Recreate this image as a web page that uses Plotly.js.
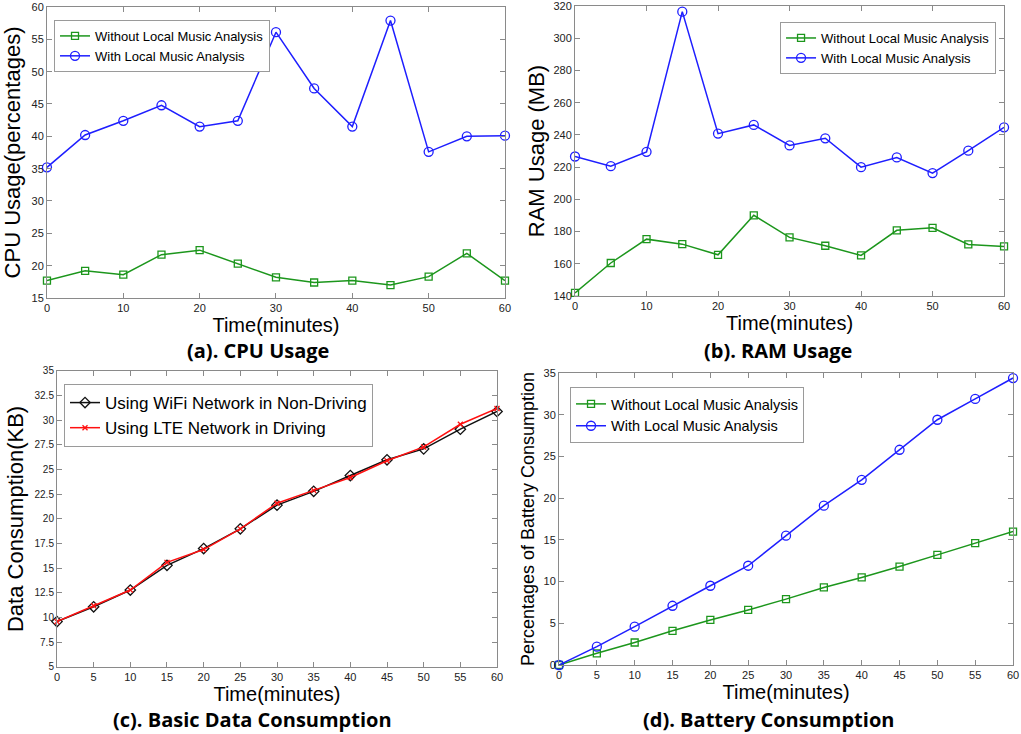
<!DOCTYPE html>
<html>
<head>
<meta charset="utf-8">
<script src="https://cdn.plot.ly/plotly-3.0.1.min.js"></script>
<style>html,body{margin:0;padding:0;background:#fff;}#chart{width:1021px;height:734px;}</style>
</head>
<body>
<div id="chart"></div>
<script>
// ---- data ----
const time = [0, 5, 10, 15, 20, 25, 30, 35, 40, 45, 50, 55, 60];
const cpuWithout = [17.7, 19.2, 18.6, 21.7, 22.4, 20.3, 18.2, 17.4, 17.7, 17.0, 18.3, 21.9, 17.7];
const cpuWith = [35.2, 40.2, 42.4, 44.8, 41.5, 42.4, 56.1, 47.4, 41.5, 57.9, 37.6, 40.0, 40.1];
const ramWithout = [141.9, 160.5, 175.3, 172.2, 165.6, 190.1, 176.4, 171.2, 165.2, 180.8, 182.3, 172.0, 170.8];
const ramWith = [226.6, 220.6, 229.5, 316.5, 240.8, 246.2, 233.5, 237.9, 220.0, 226.0, 216.3, 230.2, 244.7];
const dataWifi = [9.6, 11.1, 12.8, 15.3, 17.0, 19.0, 21.4, 22.8, 24.4, 26.0, 27.1, 29.1, 30.9];
const dataLte = [9.6, 11.2, 12.8, 15.6, 16.9, 19.0, 21.6, 22.9, 24.2, 25.9, 27.3, 29.6, 31.2];
const batWithout = [0, 1.4, 2.7, 4.1, 5.4, 6.6, 7.9, 9.3, 10.5, 11.8, 13.2, 14.6, 16.0];
const batWith = [0, 2.2, 4.6, 7.1, 9.5, 11.9, 15.5, 19.1, 22.2, 25.8, 29.4, 31.9, 34.4];

const seriesNames = ["Without Local Music Analysis", "With Local Music Analysis"];
const netNames = ["Using WiFi Network in Non-Driving", "Using LTE Network in Driving"];

const cpuTicks = [15, 20, 25, 30, 35, 40, 45, 50, 55, 60];
const ramTicks = [140, 160, 180, 200, 220, 240, 260, 280, 300, 320];
const dataTicks = [5, 7.5, 10, 12.5, 15, 17.5, 20, 22.5, 25, 27.5, 30, 32.5, 35];
const dataTickText = ["5", "7.5", "10", "12.5", "15", "17.5", "20", "22.5", "25", "27.5", "30", "32.5", "35"];
const batTicks = [0, 5, 10, 15, 20, 25, 30, 35];
const timeTicks10 = [0, 10, 20, 30, 40, 50, 60];
const timeTicks5 = [0, 5, 10, 15, 20, 25, 30, 35, 40, 45, 50, 55, 60];

const panelTitles = ["(a). CPU Usage", "(b). RAM Usage", "(c). Basic Data Consumption", "(d). Battery Consumption"];
const yTitles = ["CPU Usage(percentages)", "RAM Usage (MB)", "Data Consumption(KB)", "Percentages of Battery Consumption"];
const xTitle = "Time(minutes)";

// ---- styles ----
const GREEN = "#1c961c", BLUE = "#1e1eff", RED = "#ff1010", BLACK = "#111111";
const AX = "#8a8a8a";
const FONT = "Liberation Sans, Arial, sans-serif";

function line(x, y, name, color, symbol, size, xa, ya, leg) {
  return {
    x: x, y: y, name: name, type: "scatter", mode: "lines+markers",
    xaxis: xa, yaxis: ya, legend: leg, cliponaxis: false,
    line: {color: color, width: 1.5},
    marker: {symbol: symbol, size: size, color: color, line: {color: color, width: 1.3}}
  };
}

const traces = [
  line(time, cpuWithout, seriesNames[0], GREEN, "square-open", 7, "x", "y", "legend"),
  line(time, cpuWith, seriesNames[1], BLUE, "circle-open", 9, "x", "y", "legend"),
  line(time, ramWithout, seriesNames[0], GREEN, "square-open", 7, "x2", "y2", "legend2"),
  line(time, ramWith, seriesNames[1], BLUE, "circle-open", 9, "x2", "y2", "legend2"),
  line(time, dataWifi, netNames[0], BLACK, "diamond-open", 8, "x3", "y3", "legend3"),
  line(time, dataLte, netNames[1], RED, "x-thin-open", 5, "x3", "y3", "legend3"),
  line(time, batWithout, seriesNames[0], GREEN, "square-open", 7, "x4", "y4", "legend4"),
  line(time, batWith, seriesNames[1], BLUE, "circle-open", 9, "x4", "y4", "legend4")
];

function xax(domain, anchor, ticks, titleStandoff) {
  return {
    domain: domain, anchor: anchor, range: [0, 60], tickvals: ticks,
    showgrid: false, zeroline: false, showline: true, linecolor: AX, linewidth: 1,
    mirror: "ticks", ticks: "inside", ticklen: 5, tickcolor: AX, ticklabeloverflow: "allow",
    tickfont: {family: FONT, size: 11, color: "#222"},
    title: {text: xTitle, font: {family: FONT, size: 20, color: "#000"}, standoff: titleStandoff}
  };
}
function yax(domain, anchor, range, ticks, ticktext, title, tsize, fsize, standoff) {
  const a = {
    domain: domain, anchor: anchor, range: range, tickvals: ticks,
    showgrid: false, zeroline: false, showline: true, linecolor: AX, linewidth: 1,
    mirror: "ticks", ticks: "inside", ticklen: 5, tickcolor: AX, ticklabeloverflow: "allow",
    tickfont: {family: FONT, size: fsize, color: "#222"},
    title: {text: title, font: {family: FONT, size: tsize, color: "#000"}, standoff: standoff}
  };
  if (ticktext) a.ticktext = ticktext;
  return a;
}

function leg(x, y, size) {
  return {
    x: x, y: y, xanchor: "left", yanchor: "top", xref: "paper", yref: "paper",
    bgcolor: "#fff", bordercolor: "#9a9a9a", borderwidth: 1,
    font: {family: FONT, size: size, color: "#000"},
    itemwidth: 30, tracegroupgap: 0
  };
}

function sub(text, x, y) {
  return {text: text, x: x, y: y, xref: "paper", yref: "paper", showarrow: false,
    xanchor: "center", yanchor: "middle",
    font: {family: "Open Sans, Noto Sans, sans-serif", size: 20, color: "#000", weight: "bold"}};
}

const layout = {
  width: 1021, height: 734, margin: {l: 0, r: 0, t: 0, b: 0},
  paper_bgcolor: "#fff", plot_bgcolor: "#fff", showlegend: true,
  xaxis: xax([0.046, 0.4946], "y", timeTicks10, 0),
  yaxis: yax([0.594, 0.9905], "x", [15, 60], cpuTicks, null, yTitles[0], 22, 11, 6),
  xaxis2: xax([0.5632, 0.9834], "y2", timeTicks10, 0),
  yaxis2: yax([0.5967, 0.9918], "x2", [140, 320], ramTicks, null, yTitles[1], 22, 11, 2),
  xaxis3: xax([0.0558, 0.4868], "y3", timeTicks5, 0),
  yaxis3: yax([0.0913, 0.4946], "x3", [5, 35], dataTicks, dataTickText, yTitles[2], 22, 10, 4),
  xaxis4: xax([0.5475, 0.9922], "y4", timeTicks5, 0),
  yaxis4: yax([0.094, 0.4918], "x4", [0, 35], batTicks, null, yTitles[3], 18, 11, 4),
  legend: leg(0.0529, 0.9728, 13),
  legend2: leg(0.764, 0.9700, 13),
  legend3: leg(0.0627, 0.4768, 17),
  legend4: leg(0.5583, 0.4728, 14.5),
  annotations: [
    sub(panelTitles[0], 258 / 1021, 1 - 350 / 734),
    sub(panelTitles[1], 778 / 1021, 1 - 350 / 734),
    sub(panelTitles[2], 252 / 1021, 1 - 719 / 734),
    sub(panelTitles[3], 768 / 1021, 1 - 719 / 734)
  ]
};

Plotly.newPlot("chart", traces, layout, {displayModeBar: false, staticPlot: true});
</script>
</body>
</html>
